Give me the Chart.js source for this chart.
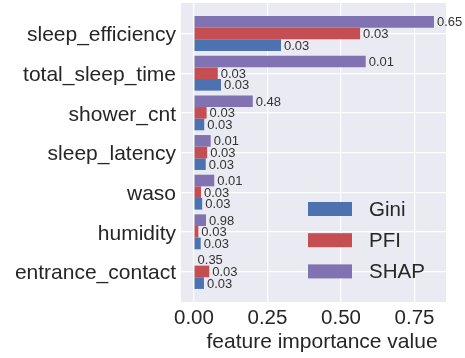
<!DOCTYPE html>
<html><head><meta charset="utf-8">
<script src="https://cdn.jsdelivr.net/npm/chart.js@4/dist/chart.umd.min.js"></script>
<style>html,body{margin:0;padding:0;background:#fff}#wrap{width:465px;height:358px}</style>
</head><body><div id="wrap"><canvas id="c" width="465" height="358"></canvas></div>
<script>
const categories = ["sleep_efficiency","total_sleep_time","shower_cnt","sleep_latency","waso","humidity","entrance_contact"];
const giniValues = [0.296, 0.092, 0.035, 0.040, 0.028, 0.023, 0.034];
const pfiValues  = [0.565, 0.081, 0.043, 0.045, 0.024, 0.015, 0.052];
const shapValues = [0.816, 0.584, 0.200, 0.057, 0.069, 0.041, 0.002];
const giniLabels = ["0.03","0.03","0.03","0.03","0.03","0.03","0.03"];
const pfiLabels  = ["0.03","0.03","0.03","0.03","0.03","0.03","0.03"];
const shapLabels = ["0.65","0.01","0.48","0.01","0.01","0.98","0.35"];
const xTicks = [0, 0.25, 0.5, 0.75];
const xTitle = 'feature importance value';
const FONT = "'Liberation Sans', Arial, sans-serif";
const TXT = '#262626';

const toPts = vals => vals.map((v, i) => ({x: v, y: i}));

const bgPlugin = {
  id: 'bg',
  beforeDraw(chart) {
    const {ctx, chartArea: a} = chart;
    ctx.save(); ctx.fillStyle = '#EAEAF2';
    ctx.fillRect(a.left, a.top, a.right - a.left, a.bottom - a.top);
    ctx.restore();
  }
};
const valueLabels = {
  id: 'valueLabels',
  afterDatasetsDraw(chart) {
    const ctx = chart.ctx;
    ctx.save();
    ctx.font = '13px ' + FONT; ctx.fillStyle = '#333333';
    ctx.textAlign = 'left'; ctx.textBaseline = 'middle';
    chart.data.datasets.forEach((ds, di) => {
      const meta = chart.getDatasetMeta(di);
      meta.data.forEach((el, i) => {
        ctx.fillText(ds.valueText[i], Math.max(el.x, el.base) + 3, el.y + 1);
      });
    });
    ctx.restore();
  }
};
const insideLegend = {
  id: 'insideLegend',
  afterDraw(chart) {
    const {ctx, chartArea: a} = chart;
    const ds = chart.data.datasets.slice().reverse();
    ctx.save();
    ctx.font = '20.5px ' + FONT; ctx.textBaseline = 'middle'; ctx.textAlign = 'left';
    ds.forEach((d, k) => {
      const cy = a.bottom - 93 + k * 31.2;
      const bx = a.right - 138;
      ctx.fillStyle = d.backgroundColor;
      ctx.fillRect(bx, cy - 7, 44, 14);
      ctx.fillStyle = TXT;
      ctx.fillText(d.label, bx + 61, cy + 1);
    });
    // x-axis title
    ctx.font = '21px ' + FONT; ctx.textAlign = 'center';
    ctx.fillText(xTitle, (a.left + a.right) / 2 + 8.5, 342);
    ctx.restore();
  }
};

new Chart(document.getElementById('c'), {
  type: 'bar',
  data: {
    datasets: [
      {label: 'SHAP', data: toPts(shapValues), valueText: shapLabels, backgroundColor: '#8172B2'},
      {label: 'PFI',  data: toPts(pfiValues),  valueText: pfiLabels,  backgroundColor: '#C44E52'},
      {label: 'Gini', data: toPts(giniValues), valueText: giniLabels, backgroundColor: '#4C72B0'}
    ]
  },
  options: {
    indexAxis: 'y',
    responsive: false,
    animation: false,
    categoryPercentage: 0.88,
    barPercentage: 1.0,
    layout: {padding: {top: 3, right: 19, left: 0, bottom: 0}},
    plugins: {legend: {display: false}, tooltip: {enabled: false}},
    scales: {
      y: {
        type: 'linear', reverse: true, min: -0.77, max: 6.77, offset: false,
        afterBuildTicks: s => { s.ticks = categories.map((_, i) => ({value: i})); },
        afterFit: s => { s.width = 181; s.paddingTop = 0; s.paddingBottom = 0; },
        ticks: {callback: v => categories[v], font: {family: FONT, size: 21}, color: TXT, padding: 5, autoSkip: false, labelOffset: 2},
        grid: {color: '#FFFFFF', lineWidth: 1.2, drawTicks: false, offset: false},
        border: {display: false}
      },
      x: {
        type: 'linear', min: -0.044, max: 0.857,
        afterBuildTicks: s => { s.ticks = xTicks.map(v => ({value: v})); },
        afterFit: s => { s.height = 56; s.paddingLeft = 0; s.paddingRight = 0; },
        ticks: {callback: v => v.toFixed(2), font: {family: FONT, size: 20.5}, color: TXT, padding: 4, maxRotation: 0},
        grid: {color: '#FFFFFF', lineWidth: 1.2, drawTicks: false},
        border: {display: false}
      }
    }
  },
  plugins: [bgPlugin, valueLabels, insideLegend]
});
</script></body></html>
